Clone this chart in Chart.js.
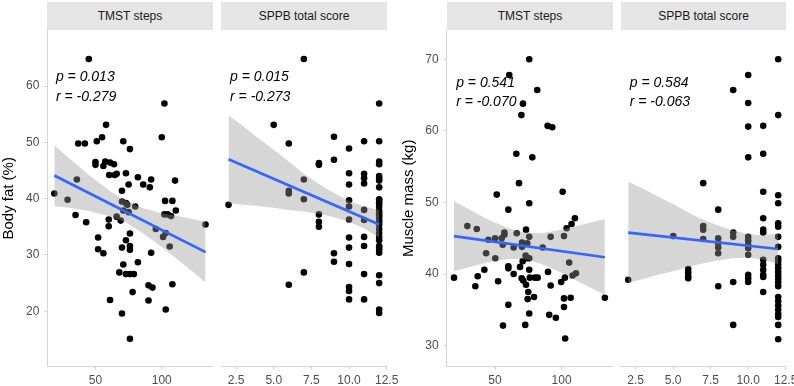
<!DOCTYPE html>
<html>
<head>
<meta charset="utf-8">
<script src="https://cdn.jsdelivr.net/npm/chart.js@4/dist/chart.umd.min.js"></script>
<style>
  html, body { margin: 0; padding: 0; background: #fff; }
  body { width: 794px; height: 386px; position: relative; overflow: hidden; font-family: "Liberation Sans", Arial, sans-serif; }
  canvas { position: absolute; }
  .strip { position: absolute; top: 2px; height: 28px; line-height: 28px; background: #e5e5e5; color: #1a1a1a; font-size: 12px; text-align: center; }
</style>
</head>
<body>
<div class="strip" style="left:47px;width:166px">TMST steps</div>
<div class="strip" style="left:221px;width:166px">SPPB total score</div>
<div class="strip" style="left:447px;width:166px">TMST steps</div>
<div class="strip" style="left:621px;width:165px">SPPB total score</div>
<canvas id="c1" width="226" height="364" style="left:0;top:22px"></canvas>
<canvas id="c2" width="190" height="364" style="left:209px;top:22px"></canvas>
<canvas id="c3" width="236" height="364" style="left:390px;top:22px"></canvas>
<canvas id="c4" width="189" height="364" style="left:609px;top:22px"></canvas>
<script>
// ---- data ----
const stepsTicks = [50, 100];
const sppbTicks = [2.5, 5, 7.5, 10, 12.5];
const fatTicks = [20, 30, 40, 50, 60];
const muscleTicks = [30, 40, 50, 60, 70];

// body fat vs TMST steps
const fatStepsX = [45, 102, 58, 100, 55, 37, 42, 51, 71, 76, 50, 50, 56, 57.4, 61, 64, 60.4, 64.5, 66, 73,
  82, 75, 86, 92, 91, 110, 70, 36, 19, 29, 102.5, 108, 35, 43, 52, 52, 56, 60, 60, 61,
  68, 66, 69, 70, 73, 74, 71, 75, 80, 70, 71, 73, 76, 76, 76, 73, 76, 79, 78, 70,
  76, 82, 90, 93, 90, 92, 95.5, 110.6, 102, 104.5, 107, 101, 103, 106, 108, 103, 133];
const fatStepsY = [64.8, 56.9, 53.1, 50.9, 50.9, 49.8, 49.8, 50.2, 50.2, 48.8, 46.5, 46.0, 45.8, 46.6, 46.4, 46.1, 44.2, 44.2, 44.4, 44.5,
  43.8, 42.5, 42.5, 43.4, 42.0, 43.2, 41.4, 43.4, 40.9, 39.8, 39.6, 39.6, 37.1, 35.8, 33.1, 31.0, 30.3, 36.3, 35.1, 22.0,
  26.9, 36.8, 36.1, 39.5, 39.2, 38.9, 37.9, 37.6, 38.6, 31.3, 28.3, 32.6, 33.8, 31.6, 30.9, 26.6, 26.6, 26.6, 23.4, 19.6,
  15.1, 28.7, 24.6, 24.2, 21.9, 30.4, 34.6, 37.9, 37.2, 37.2, 36.9, 33.2, 33.9, 31.5, 24.8, 20.3, 35.4];
const fatStepsBandX = [19, 30, 45, 60, 72, 85, 100, 115, 133];
const fatStepsHigh = [49.5, 47.2, 44.2, 41.5, 39.7, 38.4, 37.4, 36.8, 35.9];
const fatStepsLow = [38.7, 38.4, 37.8, 36.9, 35.9, 34.0, 31.4, 28.6, 25.1];
const fatStepsFitX = [19, 133];
const fatStepsFitY = [44.1, 30.5];

// body fat vs SPPB
const fatSppbX = [2, 5, 6, 6, 6, 6, 7, 7, 7, 7,
  8, 8, 8, 8, 8, 9, 9, 9, 9,
  10, 10, 10, 10, 10, 10, 10, 10, 10, 10, 10, 10,
  11, 11, 11, 11, 11, 11, 11, 11, 11, 11,
  12, 12, 12, 12, 12, 12, 12, 12, 12, 12, 12, 12, 12, 12, 12, 12, 12, 12, 12, 12, 12, 12, 12, 12, 12, 12, 12, 12, 12, 12, 12];
const fatSppbY = [38.9, 53.1, 49.8, 41.4, 40.9, 24.7, 64.8, 43.4, 39.9, 26.9,
  46.3, 46.0, 37.2, 35.9, 35.0, 51.0, 46.9, 30.3, 28.8,
  48.9, 44.5, 42.5, 39.7, 38.6, 36.3, 33.1, 31.3, 28.4, 24.3, 23.6, 22.1,
  50.2, 44.4, 43.6, 42.7, 38.0, 36.2, 33.2, 31.6, 26.6, 22.1,
  56.9, 50.2, 46.6, 46.1, 44.0, 43.6, 43.2, 42.0, 39.9, 39.6, 39.2, 38.6, 37.9, 37.5, 37.1, 36.8, 36.3, 35.9, 35.4, 34.6, 33.9, 33.2, 32.6, 31.6, 31.3, 30.9, 30.4, 26.4, 25.0, 20.3, 19.7, 15.2];
const fatSppbBandX = [2, 3, 4, 5, 6, 7, 8, 9, 10, 11, 12];
const fatSppbHigh = [54.8, 52.8, 50.7, 48.7, 46.6, 44.4, 42.6, 41.0, 39.6, 38.6, 38.0];
const fatSppbLow = [39.2, 38.9, 38.7, 38.4, 38.0, 37.7, 37.3, 36.7, 35.9, 34.7, 33.1];
const fatSppbFitX = [2, 12];
const fatSppbFitY = [47.0, 35.4];

// muscle mass vs TMST steps
const muscleStepsX = [75.7, 60.7, 81.7, 71, 69.8, 89.5, 93, 66, 78, 68, 51.3, 100.8,
  75.7, 60, 19.2, 29.2, 36.3, 43.3, 42, 37, 35.2, 45, 50, 50.2, 52.3, 55, 57, 57, 55.8, 60,
  60, 64, 64, 66.3, 60, 56, 70.3, 70.3, 73.3, 74.2, 75.7, 73, 74.2, 75.7, 70.8, 68.8, 75.7, 70, 71.2, 73.3,
  76.2, 80, 82, 75, 74.5, 79.3, 75.7, 72.7, 85.8, 91.8, 89.8, 91.8, 90.7, 95.7, 99.7, 102.5, 101.8, 103.8, 107.5, 110,
  105.7, 108.3, 110.8, 101.8, 106.8, 101.8, 102.7, 132.5];
const muscleStepsY = [70.0, 67.8, 65.7, 63.8, 62.2, 60.7, 60.5, 56.8, 56.3, 52.7, 51.1, 51.5,
  49.9, 49.0, 39.5, 46.7, 46.3, 42.9, 40.6, 39.7, 38.3, 44.8, 45.0, 42.2, 39.0, 45.0, 45.8, 45.5, 44.1, 41.1,
  40.8, 40.0, 43.7, 45.7, 35.7, 32.8, 44.4, 43.8, 46.2, 44.3, 45.2, 42.6, 42.2, 42.2, 41.8, 41.0, 40.6, 39.4, 39.1, 38.5,
  39.5, 39.5, 39.5, 37.5, 36.5, 36.8, 34.5, 32.9, 43.7, 45.2, 40.3, 38.4, 34.3, 33.9, 38.9, 39.5, 45.3, 46.4, 47.0, 47.8,
  41.6, 39.8, 40.1, 36.6, 36.7, 35.4, 31.0, 36.7];
const muscleStepsBandX = [19, 30, 45, 60, 72, 85, 100, 115, 132.5];
const muscleStepsHigh = [50.2, 49.1, 47.6, 46.4, 45.8, 45.7, 46.2, 46.9, 47.7];
const muscleStepsLow = [40.4, 40.9, 41.7, 42.1, 42.1, 41.4, 40.2, 38.7, 37.1];
const muscleStepsFitX = [19.2, 132.5];
const muscleStepsFitY = [45.3, 42.35];

// muscle mass vs SPPB
const muscleSppbX = [12, 10, 9, 10, 12, 10, 11, 10, 11, 7, 11, 12,
  12, 8, 2, 5, 6, 6, 6, 6, 7, 7, 7, 8, 8, 8, 8, 8, 9, 9, 9, 9,
  10, 10, 10, 10, 10, 10, 10, 10,
  11, 11, 11, 11, 11, 11, 11, 11, 11,
  12, 12, 12, 12, 12, 12, 12, 12, 12, 12, 12, 12, 12, 12, 12, 12, 12, 12, 12, 12, 12];
const muscleSppbY = [70.0, 67.8, 65.7, 63.9, 62.2, 60.6, 60.7, 56.3, 56.8, 52.7, 51.5, 51.0,
  49.9, 49.0, 39.2, 45.3, 40.7, 40.2, 39.7, 39.4, 46.7, 46.2, 44.9, 45.0, 44.3, 43.7, 42.9, 38.3, 45.8, 45.2, 38.9, 32.9,
  45.2, 44.7, 44.1, 43.6, 42.7, 39.9, 39.4, 38.9,
  47.8, 46.2, 45.8, 42.0, 41.3, 40.6, 39.9, 39.6, 37.5,
  47.1, 46.6, 45.2, 43.8, 42.2, 41.8, 41.3, 40.8, 40.3, 39.8, 39.3, 38.8, 38.3, 36.8, 36.2, 35.6, 35.0, 34.4, 34.0, 32.9, 30.9];
const muscleSppbBandX = [2, 3, 4, 5, 6, 7, 8, 9, 10, 11, 12];
const muscleSppbHigh = [52.9, 51.9, 50.8, 49.8, 48.6, 47.6, 46.8, 46.1, 45.6, 45.4, 45.7];
const muscleSppbLow = [38.7, 39.3, 39.9, 40.4, 41.0, 41.5, 41.9, 42.2, 42.3, 42.0, 41.4];
const muscleSppbFitX = [2, 12];
const muscleSppbFitY = [45.8, 43.5];

const statLabels = [
  ['p = 0.013', 'r = -0.279'],
  ['p = 0.015', 'r = -0.273'],
  ['p = 0.541', 'r = -0.070'],
  ['p = 0.584', 'r = -0.063']
];

// ---- drawing ----
const FONT = '"Liberation Sans", Arial, sans-serif';
const axisGrey = '#d4d4d4';
Chart.defaults.font.family = FONT;

function pts(xs, ys) {
  return xs.map((x, i) => ({ x: x, y: ys[i] }));
}

// p / r text at data position
const statPlugin = {
  id: 'stat',
  afterDatasetsDraw(chart, args, opts) {
    const ctx = chart.ctx;
    ctx.save();
    ctx.font = 'italic 14px ' + FONT;
    ctx.fillStyle = '#000';
    ctx.textAlign = 'left';
    ctx.textBaseline = 'middle';
    const px = chart.scales.x.getPixelForValue(opts.x);
    opts.lines.forEach((t, i) => {
      ctx.fillText(t, px, chart.scales.y.getPixelForValue(opts.ys[i]));
    });
    ctx.restore();
  }
};

function makePanel(id, p) {
  const yScale = {
    type: 'linear',
    display: p.showY,
    min: p.yMin,
    max: p.yMax,
    grid: { display: true, drawOnChartArea: false, drawTicks: true, tickLength: 3, color: axisGrey },
    border: { display: true, color: axisGrey, width: 1 },
    ticks: { font: { size: 12 }, color: '#4d4d4d', padding: 5, autoSkip: false },
    afterBuildTicks: s => { s.ticks = p.yTicks.map(v => ({ value: v })); },
    afterFit: s => { s.width = p.showY ? p.yWidth : 0; s.paddingTop = 0; s.paddingBottom = 0; },
    title: { display: p.showY, text: p.yTitle, color: '#000', font: { size: 15 }, padding: { top: p.titlePad, bottom: 0 } }
  };
  return new Chart(document.getElementById(id), {
    type: 'scatter',
    data: {
      datasets: [
        { type: 'scatter', data: pts(p.xs, p.ys), backgroundColor: '#000', borderWidth: 0, pointRadius: 3.3, order: 3 },
        { type: 'line', data: pts(p.bandX, p.low), borderColor: 'transparent', borderWidth: 0, pointRadius: 0, fill: false, order: 2 },
        { type: 'line', data: pts(p.bandX, p.high), borderColor: 'transparent', borderWidth: 0, pointRadius: 0,
          fill: '-1', backgroundColor: 'rgba(153,153,153,0.4)', order: 1 },
        { type: 'line', data: pts(p.fitX, p.fitY), borderColor: '#3366FF', borderWidth: 2.7, pointRadius: 0, fill: false, order: 0 }
      ]
    },
    options: {
      responsive: false,
      animation: false,
      events: [],
      layout: { padding: p.padding },
      plugins: {
        legend: { display: false },
        tooltip: { enabled: false },
        stat: { x: p.statX, ys: p.statY, lines: p.stat }
      },
      scales: {
        x: {
          type: 'linear',
          min: p.xMin,
          max: p.xMax,
          grid: { display: true, drawOnChartArea: false, drawTicks: true, tickLength: 3, color: axisGrey },
          border: { display: true, color: axisGrey, width: 1 },
          ticks: {
            font: { size: 12 }, color: '#4d4d4d', padding: 4, autoSkip: false, maxRotation: 0,
            callback: v => p.oneDecimal ? v.toFixed(1) : String(v)
          },
          afterBuildTicks: s => { s.ticks = p.xTicks.map(v => ({ value: v })); },
          afterFit: s => { s.height = 19.3; s.paddingLeft = 0; s.paddingRight = 0; }
        },
        y: yScale
      }
    },
    plugins: [statPlugin]
  });
}

makePanel('c1', {
  xs: fatStepsX, ys: fatStepsY, bandX: fatStepsBandX, low: fatStepsLow, high: fatStepsHigh,
  fitX: fatStepsFitX, fitY: fatStepsFitY,
  xMin: 13.7, xMax: 138.4, yMin: 10.15, yMax: 69.95, xTicks: stepsTicks, yTicks: fatTicks,
  showY: true, yWidth: 47.3, yTitle: 'Body fat (%)', titlePad: 0,
  padding: { left: 0, right: 13.3, top: 8, bottom: 0 },
  stat: statLabels[0], statX: 20.2, statY: [61.6, 58.1]
});
makePanel('c2', {
  xs: fatSppbX, ys: fatSppbY, bandX: fatSppbBandX, low: fatSppbLow, high: fatSppbHigh,
  fitX: fatSppbFitX, fitY: fatSppbFitY, oneDecimal: true,
  xMin: 1.5, xMax: 12.5, yMin: 10.15, yMax: 69.95, xTicks: sppbTicks, yTicks: fatTicks,
  showY: false, padding: { left: 12, right: 12.3, top: 8, bottom: 0 },
  stat: statLabels[1], statX: 2.1, statY: [61.6, 58.1]
});
makePanel('c3', {
  xs: muscleStepsX, ys: muscleStepsY, bandX: muscleStepsBandX, low: muscleStepsLow, high: muscleStepsHigh,
  fitX: muscleStepsFitX, fitY: muscleStepsFitY,
  xMin: 13.7, xMax: 138.4, yMin: 27.06, yMax: 74.09, xTicks: stepsTicks, yTicks: muscleTicks,
  showY: true, yWidth: 56.7, yTitle: 'Muscle mass (kg)', titlePad: 9.5,
  padding: { left: 0, right: 13.3, top: 8, bottom: 0 },
  stat: statLabels[2], statX: 20.8, statY: [66.7, 64.0]
});
makePanel('c4', {
  xs: muscleSppbX, ys: muscleSppbY, bandX: muscleSppbBandX, low: muscleSppbLow, high: muscleSppbHigh,
  fitX: muscleSppbFitX, fitY: muscleSppbFitY, oneDecimal: true,
  xMin: 1.5, xMax: 12.5, yMin: 27.06, yMax: 74.09, xTicks: sppbTicks, yTicks: muscleTicks,
  showY: false, padding: { left: 11.7, right: 12.3, top: 8, bottom: 0 },
  stat: statLabels[3], statX: 2.1, statY: [66.7, 64.0]
});
</script>
</body>
</html>
